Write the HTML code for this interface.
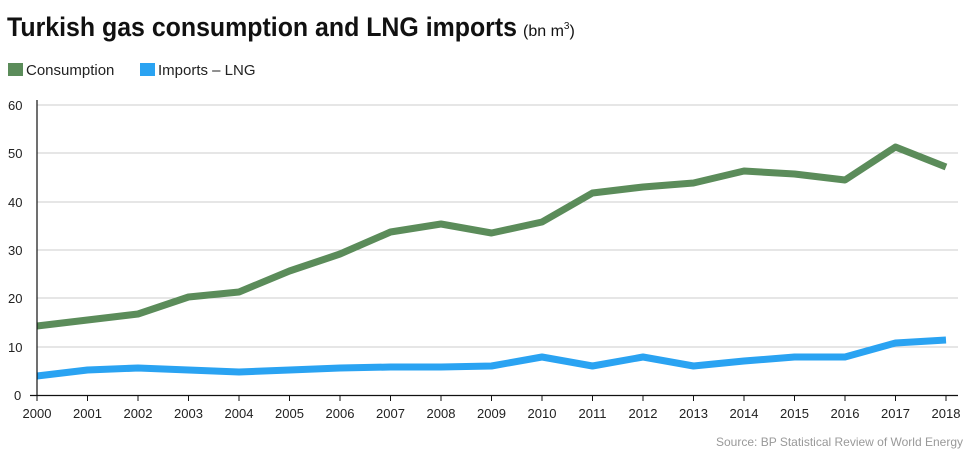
<!DOCTYPE html>
<html><head><meta charset="utf-8"><style>
body{margin:0;background:#fff;}
svg{display:block;font-family:"Liberation Sans Narrow","Liberation Sans",sans-serif;}
</style></head><body>
<svg width="973" height="460" viewBox="0 0 973 460" xmlns="http://www.w3.org/2000/svg">
<rect width="973" height="460" fill="#fff"/>
<text x="7" y="36" font-size="27" font-weight="bold" fill="#111" textLength="510" lengthAdjust="spacingAndGlyphs">Turkish gas consumption and LNG imports</text>
<text x="523" y="36" font-size="16" fill="#111">(bn m<tspan font-size="10" dy="-7">3</tspan><tspan dy="7">)</tspan></text>
<rect x="8" y="63" width="15" height="13" fill="#5b8c5a"/>
<text x="26" y="75" font-size="15" fill="#222">Consumption</text>
<rect x="140" y="63" width="15" height="13" fill="#2aa3f2"/>
<text x="158" y="75" font-size="15" fill="#222">Imports – LNG</text>
<g stroke="#ccc" stroke-width="1">
<line x1="37" y1="105" x2="958" y2="105"/>
<line x1="37" y1="153" x2="958" y2="153"/>
<line x1="37" y1="202" x2="958" y2="202"/>
<line x1="37" y1="250" x2="958" y2="250"/>
<line x1="37" y1="298" x2="958" y2="298"/>
<line x1="37" y1="347" x2="958" y2="347"/>
</g>
<g font-size="13" fill="#222">
<text x="8" y="110">60</text><text x="8" y="158">50</text><text x="8" y="207">40</text>
<text x="8" y="255">30</text><text x="8" y="303">20</text><text x="8" y="352">10</text><text x="14" y="400">0</text>
</g>
<polyline fill="none" stroke="#5b8c5a" stroke-width="7" stroke-linejoin="round" points="37,326 87.5,320 138,314 188.5,297 239,292 289.5,271 340,254 390.5,232 441,224 491.5,233 542,222 592.5,193 643,187 693.5,183 744,171 794.5,174 845,180 895.5,147 946,167"/>
<polyline fill="none" stroke="#2aa3f2" stroke-width="7" stroke-linejoin="round" points="37,376 87.5,370 138,368 188.5,370 239,372 289.5,370 340,368 390.5,367 441,367 491.5,366 542,357 592.5,366 643,357 693.5,366 744,361 794.5,357 845,357 895.5,343 946,340"/>
<line x1="37" y1="100" x2="37" y2="396" stroke="#111" stroke-width="1.2"/>
<line x1="30" y1="395.5" x2="958" y2="395.5" stroke="#111" stroke-width="1.2"/>
<g stroke="#111" stroke-width="1">
<line x1="37" y1="395" x2="37" y2="401"/><line x1="87.5" y1="395" x2="87.5" y2="401"/><line x1="138" y1="395" x2="138" y2="401"/><line x1="188.5" y1="395" x2="188.5" y2="401"/><line x1="239" y1="395" x2="239" y2="401"/><line x1="289.5" y1="395" x2="289.5" y2="401"/><line x1="340" y1="395" x2="340" y2="401"/><line x1="390.5" y1="395" x2="390.5" y2="401"/><line x1="441" y1="395" x2="441" y2="401"/><line x1="491.5" y1="395" x2="491.5" y2="401"/><line x1="542" y1="395" x2="542" y2="401"/><line x1="592.5" y1="395" x2="592.5" y2="401"/><line x1="643" y1="395" x2="643" y2="401"/><line x1="693.5" y1="395" x2="693.5" y2="401"/><line x1="744" y1="395" x2="744" y2="401"/><line x1="794.5" y1="395" x2="794.5" y2="401"/><line x1="845" y1="395" x2="845" y2="401"/><line x1="895.5" y1="395" x2="895.5" y2="401"/><line x1="946" y1="395" x2="946" y2="401"/>
</g>
<g font-size="13" fill="#222" text-anchor="middle">
<text x="37" y="418">2000</text><text x="87.5" y="418">2001</text><text x="138" y="418">2002</text><text x="188.5" y="418">2003</text><text x="239" y="418">2004</text><text x="289.5" y="418">2005</text><text x="340" y="418">2006</text><text x="390.5" y="418">2007</text><text x="441" y="418">2008</text><text x="491.5" y="418">2009</text><text x="542" y="418">2010</text><text x="592.5" y="418">2011</text><text x="643" y="418">2012</text><text x="693.5" y="418">2013</text><text x="744" y="418">2014</text><text x="794.5" y="418">2015</text><text x="845" y="418">2016</text><text x="895.5" y="418">2017</text><text x="946" y="418">2018</text>
</g>
<text x="963" y="446" font-size="12" fill="#999" text-anchor="end">Source: BP Statistical Review of World Energy</text>
</svg>
</body></html>
